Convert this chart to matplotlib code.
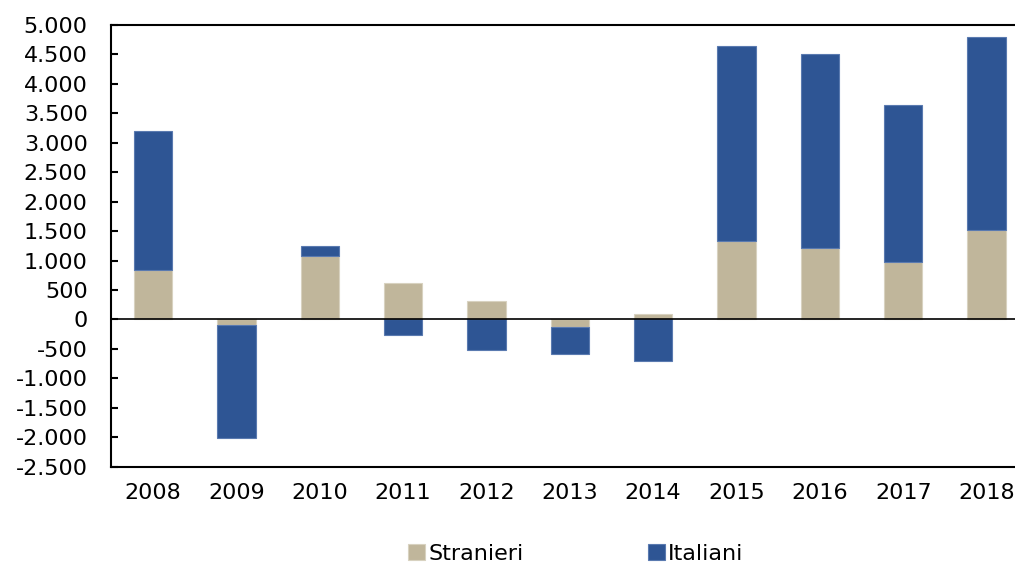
import matplotlib
matplotlib.use("Agg")
import matplotlib.pyplot as plt
from matplotlib.ticker import FuncFormatter, MultipleLocator
import numpy as np

years = ["2008", "2009", "2010", "2011", "2012", "2013", "2014", "2015", "2016", "2017", "2018"]
stranieri = [840, -100, 1070, 620, 320, -120, 90, 1330, 1220, 980, 1520]
italiani = [2360, -1920, 180, -270, -510, -470, -710, 3320, 3295, 2655, 3270]

col_str = "#C0B69B"
col_ita = "#2E5594"

plt.rcParams["font.family"] = ["DejaVu Sans"]

fig = plt.figure(figsize=(10.15, 5.68), dpi=100)
ax = fig.add_axes([111.3 / 1015, 1 - 466.7 / 568, 917 / 1015, 441.7 / 568])

x = np.arange(len(years))
s = np.array(stranieri)
it = np.array(italiani)
# excel-like stacking: positives and negatives pile up separately
bottom = np.where(it < 0, np.minimum(s, 0), np.maximum(s, 0))

ax.bar(x, s, width=0.46, color=col_str, edgecolor="#d8d2c0", linewidth=0.8, label="Stranieri", zorder=2)
ax.bar(x, it, bottom=bottom, width=0.46, color=col_ita, edgecolor="#5a7ab0", linewidth=0.8, label="Italiani", zorder=2)
ax.axhline(0, color="black", linewidth=1.2, zorder=3)

ax.set_xlim(-0.5, 10.5)
ax.set_ylim(-2500, 5000)
ax.yaxis.set_major_locator(MultipleLocator(500))
ax.yaxis.set_major_formatter(FuncFormatter(lambda v, p: f"{int(v):,}".replace(",", ".")))
ax.set_xticks(x)
ax.set_xticklabels(years)

ax.spines["right"].set_visible(False)
for side in ["left", "bottom", "top"]:
    ax.spines[side].set_linewidth(1.5)
ax.tick_params(axis="y", direction="in", length=5, width=1.5, pad=17, labelsize=16)
ax.tick_params(axis="x", length=0, pad=12, labelsize=16)

fig.legend(loc="center", bbox_to_anchor=(576 / 1015, 1 - 554 / 568), ncol=2, frameon=False,
           fontsize=16, handlelength=0.75, handleheight=0.75, handletextpad=0.15, columnspacing=5.6)

fig.savefig("out.png", dpi=100)
